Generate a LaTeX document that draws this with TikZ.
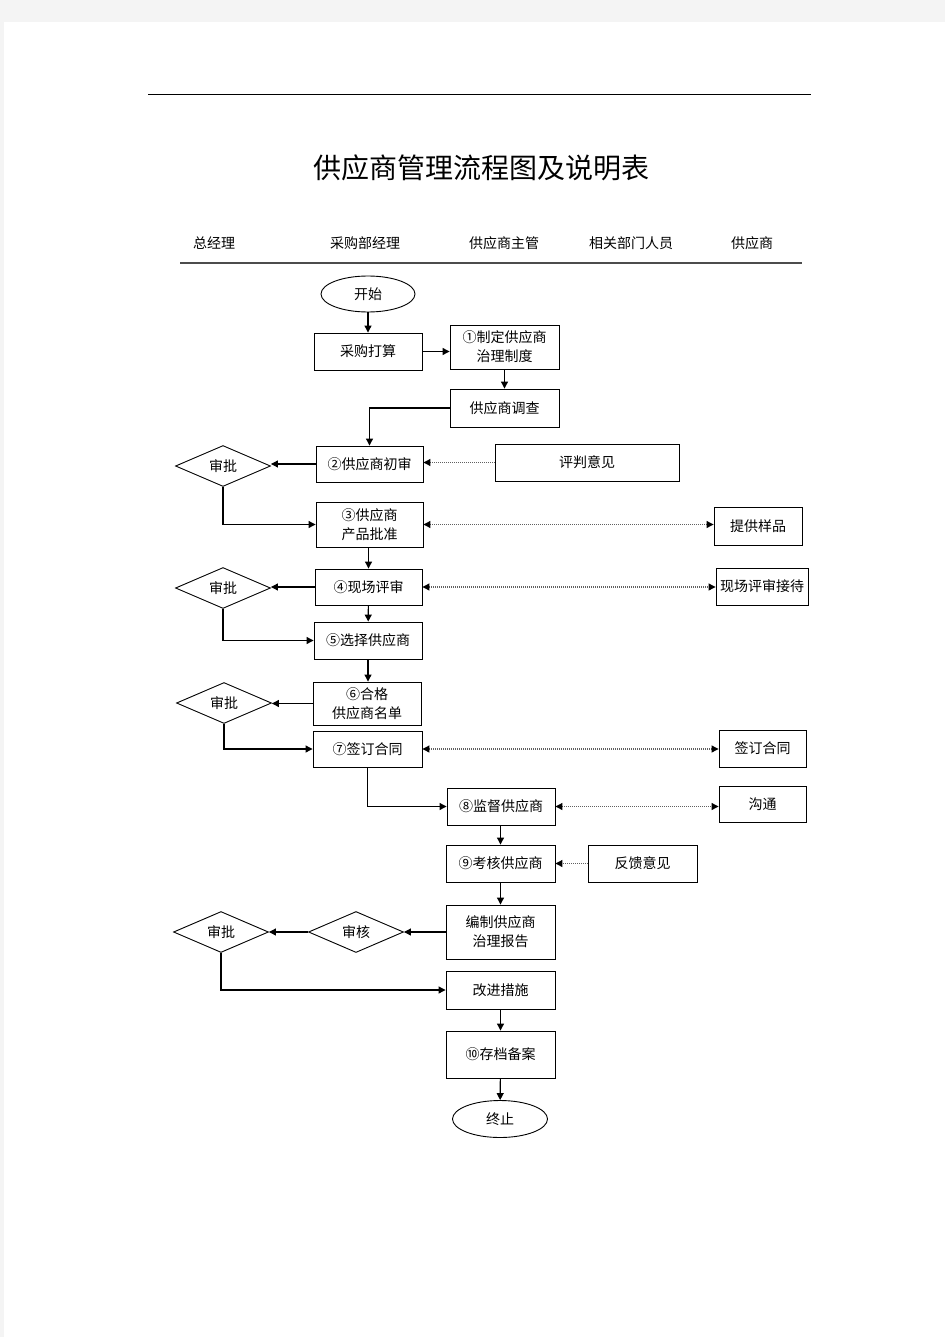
\documentclass[tikz,border=0pt]{standalone}
\usepackage{fontspec}
\setmainfont{Noto Sans CJK SC}
\usetikzlibrary{shapes.geometric,arrows.meta}
\definecolor{pagegray}{HTML}{F4F4F4}
\definecolor{dotgray}{HTML}{606060}
\tikzset{
  box/.style={draw=black, line width=0.9pt, fill=white, inner sep=1pt, align=center,
    font=\fontsize{14}{19}\selectfont},
  oval/.style={draw=black, line width=0.9pt, ellipse, inner sep=0pt, minimum width=94pt, minimum height=36pt,
    font=\fontsize{14}{17}\selectfont},
  dia/.style={draw=black, line width=0.9pt, diamond, inner sep=0pt, minimum width=95pt, minimum height=38pt,
    font=\fontsize{14}{17}\selectfont},
  arr/.style={line width=1.1pt, -{Triangle[length=7pt,width=7pt]}},
  dots/.style={draw=dotgray, line width=1.1pt, dash pattern=on 1pt off 1pt,
    {Triangle[length=7pt,width=7pt,fill=black,color=black]}-{Triangle[length=7pt,width=7pt,fill=black,color=black]}},
  dotl/.style={draw=dotgray, line width=1.1pt, dash pattern=on 1pt off 1pt,
    -{Triangle[length=7pt,width=7pt,fill=black,color=black]}},
  lane/.style={font=\fontsize{14}{17}\selectfont, inner sep=0pt},
}
\begin{document}
\begin{tikzpicture}[x=1pt,y=-1pt]
\fill[pagegray] (0,0) rectangle (945,1337);
\fill[white] (4,22) rectangle (945,1337);
\useasboundingbox (0,0) rectangle (945,1337);

% top rule and title
\draw[line width=1pt] (148,95) -- (811,95);
\node[font=\fontsize{28}{32}\selectfont, inner sep=0pt] (title) at (481,168) {供应商管理流程图及说明表};

% lanes header
\node[lane] (h1) at (214,243) {总经理};
\node[lane] (h2) at (365,243) {采购部经理};
\node[lane] (h3) at (504,243) {供应商主管};
\node[lane] (h4) at (631,243) {相关部门人员};
\node[lane] (h5) at (752,243) {供应商};
\draw[line width=1.2pt, color=black!70] (180,263) -- (802,263);

% nodes
\node[oval] (start) at (368,294) {开始};
\node[box, minimum width=108pt, minimum height=37pt] (plan) at (368,351.5) {采购打算};
\node[box, minimum width=109pt, minimum height=44pt] (p1) at (504.5,347) {①制定供应商\\治理制度};
\node[box, minimum width=109pt, minimum height=38pt] (survey) at (504.5,408) {供应商调查};
\node[box, minimum width=107pt, minimum height=36pt] (p2) at (369.5,464) {②供应商初审};
\node[box, minimum width=184pt, minimum height=37pt] (opin) at (587,462.5) {评判意见};
\node[dia] (ap1) at (223,466) {审批};
\node[box, minimum width=107pt, minimum height=45pt] (p3) at (369.5,524.5) {③供应商\\产品批准};
\node[box, minimum width=88pt, minimum height=38pt] (sample) at (758,526) {提供样品};
\node[box, minimum width=107pt, minimum height=36pt] (p4) at (368.5,587) {④现场评审};
\node[dia] (ap2) at (223,588) {审批};
\node[box, minimum width=92pt, minimum height=37pt] (recv) at (762,586.5) {现场评审接待};
\node[box, minimum width=108pt, minimum height=37pt] (p5) at (368,640.5) {⑤选择供应商};
\node[box, minimum width=108pt, minimum height=43pt] (p6) at (367,703.5) {⑥合格\\供应商名单};
\node[dia] (ap3) at (224,703) {审批};
\node[box, minimum width=109pt, minimum height=36pt] (p7) at (367.5,749) {⑦签订合同};
\node[box, minimum width=87pt, minimum height=37pt] (sign) at (762.5,748.5) {签订合同};
\node[box, minimum width=108pt, minimum height=37pt] (p8) at (501,806.5) {⑧监督供应商};
\node[box, minimum width=87pt, minimum height=36pt] (comm) at (762.5,804) {沟通};
\node[box, minimum width=109pt, minimum height=37pt] (p9) at (500.5,863.5) {⑨考核供应商};
\node[box, minimum width=109pt, minimum height=37pt] (feed) at (642.5,863.5) {反馈意见};
\node[box, minimum width=109pt, minimum height=54pt] (rep) at (500.5,932) {编制供应商\\治理报告};
\node[dia] (rev) at (356,932) {审核};
\node[dia] (ap4) at (221,932) {审批};
\node[box, minimum width=109pt, minimum height=38pt] (imp) at (500.5,990) {改进措施};
\node[box, minimum width=109pt, minimum height=47pt] (p10) at (500.5,1054.5) {⑩存档备案};
\node[oval, minimum width=95pt, minimum height=37pt] (end) at (500,1119) {终止};

% connectors
\draw[arr] (start) -- (plan);
\draw[arr] (plan) -- (plan.east -| p1.west);
\draw[arr] (p1) -- (survey);
\draw[arr] (survey.west) -| (p2.north);
\draw[arr] (p2.west) -- (p2.west -| ap1.east);
\draw[dotl] (opin.west) -- (opin.west -| p2.east);
\draw[arr] (ap1.south) |- (p3.west);
\draw[dots] (p3.east) -- (sample.west |- p3.east);
\draw[arr] (p3.south -| p4.north) -- (p4.north);
\draw[arr] (p4.west) -- (p4.west -| ap2.east);
\draw[dots] (p4.east) -- (recv.west |- p4.east);
\draw[arr] (ap2.south) |- (p5.west);
\draw[arr] (p4) -- (p5);
\draw[arr] (p5) -- (p5.south |- p6.north);
\draw[arr] (p6.west) -- (p6.west -| ap3.east);
\draw[arr] (ap3.south) |- (p7.west);
\draw[dots] (p7.east) -- (sign.west |- p7.east);
\draw[arr] (p7.south) |- (p8.west);
\draw[dots] (p8.east) -- (comm.west |- p8.east);
\draw[arr] (p8.south -| p9.north) -- (p9.north);
\draw[dotl] (feed.west) -- (p9.east);
\draw[arr] (p9) -- (rep);
\draw[arr] (rep) -- (rev);
\draw[arr] (rev) -- (ap4);
\draw[arr] (ap4.south) |- (imp.west);
\draw[arr] (imp) -- (p10);
\draw[arr] (p10) -- (end);
\end{tikzpicture}
\end{document}
